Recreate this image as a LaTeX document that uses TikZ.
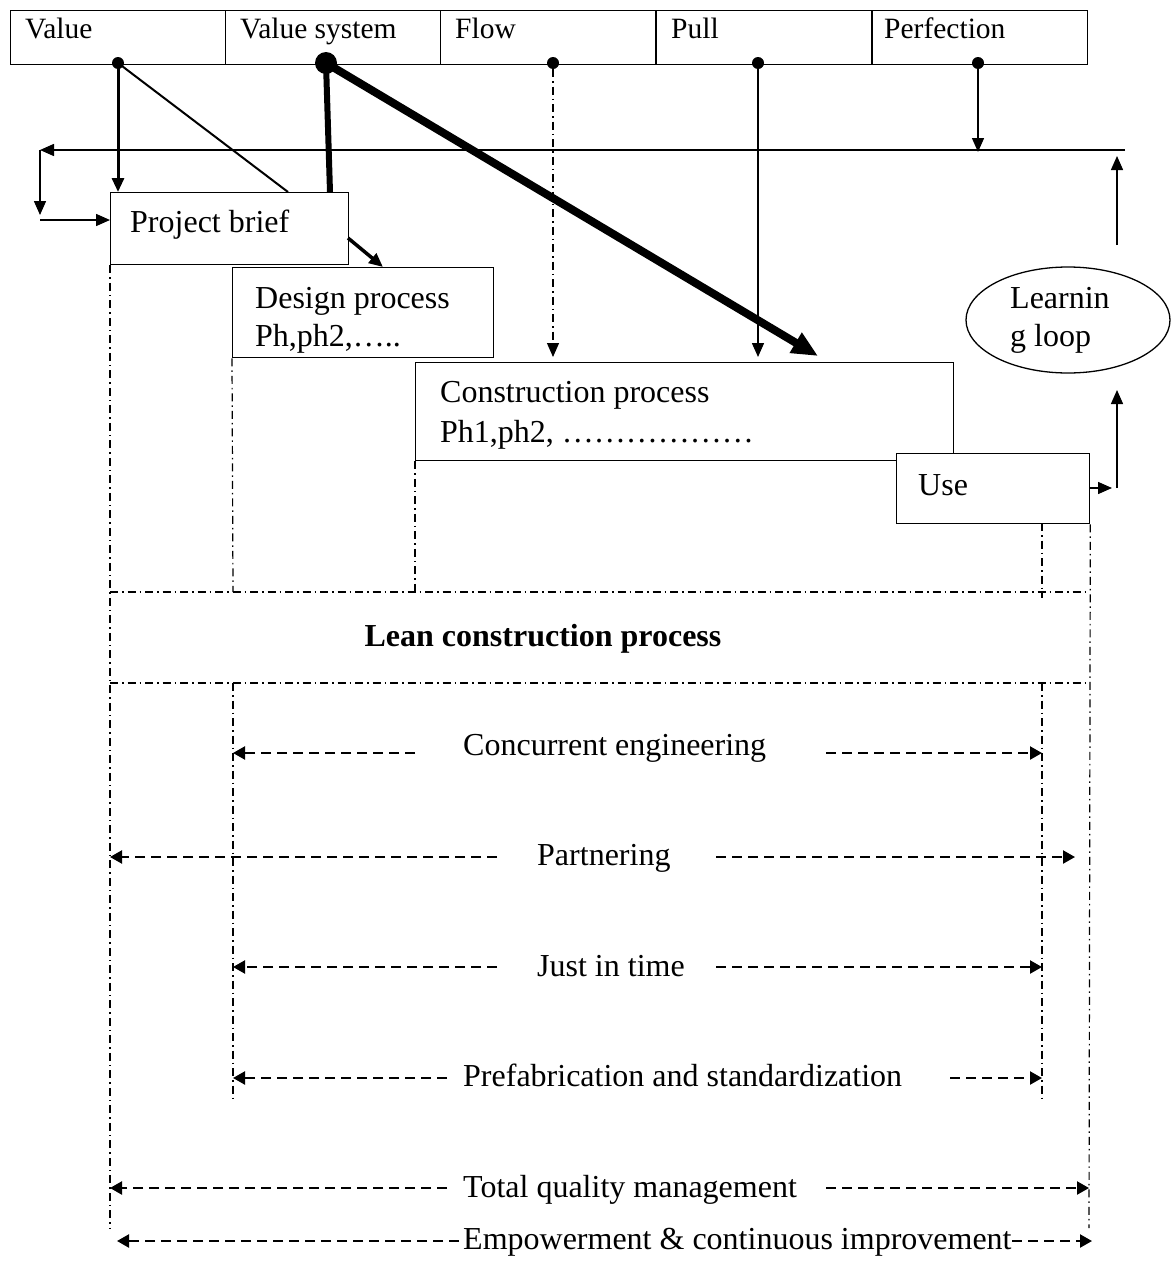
\documentclass[tikz,border=0pt]{standalone}
\usepackage{fontspec}
\setmainfont{Liberation Serif}
\usetikzlibrary{arrows.meta,shapes.geometric}
\begin{document}
\begin{tikzpicture}[x=1pt,y=-1pt,
  topbox/.style={draw, line width=1.3pt, minimum width=215pt, minimum height=54pt, anchor=north west, inner sep=0},
  procbox/.style={draw, line width=1.3pt, fill=white, anchor=north west, inner sep=0},
  tip/.style={-{Triangle[length=14pt,width=12pt]}},
  bigtip/.style={-{Triangle[length=26pt,width=22pt]}},
  dot/.style={circle, fill, inner sep=0, minimum size=12pt},
  dd/.style={line width=1.2pt, dash pattern=on 8pt off 4pt on 1.5pt off 4pt},
  da/.style={line width=2.2pt, dash pattern=on 10pt off 6pt, -{Triangle[length=12pt,width=13pt]}},
  toptxt/.style={anchor=base west, inner sep=0, font=\fontsize{29.5}{34}\selectfont},
  txt/.style={anchor=base west, inner sep=0, font=\fontsize{32}{37}\selectfont},
]
\useasboundingbox (0,0) rectangle (1170,1261);
\fill[white] (0,0) rectangle (1170,1261);

% top row
\node[topbox] (cv) at (10,10) {};
\node[topbox] (cvs) at (225,10) {};
\node[topbox] (cf) at (440,10) {};
\node[topbox] (cp) at (656,10) {};
\node[topbox] (cpf) at (872,10) {};
\node[toptxt] (tv) at (25,38) {Value};
\node[toptxt] (tvs) at (240,38) {Value system};
\node[toptxt] (tf) at (455,38) {Flow};
\node[toptxt] (tp) at (671,38) {Pull};
\node[toptxt] (tpf) at (884,38) {Perfection};

% dots
\node[dot] (dv) at (118,63) {};
\node[dot, minimum size=22pt] (dvs) at (326,63) {};
\node[dot] (df) at (553,63) {};
\node[dot] (dp) at (758,63) {};
\node[dot] (dpf) at (978,63) {};

% process boxes
\node[procbox, minimum width=238pt, minimum height=72pt] (pb) at (110,192) {};
\node[txt] (tpb) at (130,232) {Project brief};
\node[procbox, minimum width=261pt, minimum height=90pt] (dp2) at (232,267) {};
\node[txt] (tdp1) at (255,308) {Design process};
\node[txt] (tdp2) at (255,346) {Ph,ph2,\dots..};
\node[procbox, minimum width=538pt, minimum height=98pt] (cpb) at (415,362) {};
\node[txt] (tcp1) at (440,402) {Construction process};
\node[txt] (tcp2) at (440,442) {Ph1,ph2, \dots\dots\dots\dots\dots\dots};
\node[procbox, minimum width=193pt, minimum height=70pt] (use) at (896,453) {};
\node[txt] (tuse) at (918,495) {Use};
\node[draw, line width=1.3pt, ellipse, minimum width=204pt, minimum height=106pt, inner sep=0] (ll) at (1068,320) {};
\node[txt] (tll1) at (1010,308) {Learnin};
\node[txt] (tll2) at (1010,346) {g loop};

% coordinates
\coordinate (fbR) at (1125,150);
\coordinate (fbL) at (40,150);
\coordinate (fbD) at (40,215);
\coordinate (fbS) at (40,220);
\coordinate (vdiag) at (288,192);
\coordinate (vsv) at (330,192);
\coordinate (vsd) at (818,356);
\coordinate (pbo) at (348,238);
\coordinate (dpi) at (383,267);
\coordinate (fe) at (553,357);
\coordinate (pe) at (758,357);
\coordinate (pfe) at (978,152);
\coordinate (uo) at (1112,488);
\coordinate (us) at (1117,488);
\coordinate (ue) at (1117,390);
\coordinate (ls) at (1117,245);
\coordinate (le) at (1117,156);

% top connectors
\draw[line width=1.5pt, tip] (fbR) -- (fbL);
\draw[line width=1.5pt, tip] (fbL) -- (fbD);
\draw[line width=1.5pt, tip] (fbS) -- (pb.west |- fbS);
\draw[line width=3pt, tip] (dv.center) -- (dv.center |- pb.north);
\draw[line width=2pt] (dv.center) -- (vdiag);
\draw[line width=6pt] (dvs.center) -- (vsv);
\draw[line width=8pt, bigtip] (dvs.center) -- (vsd);
\draw[line width=3.5pt, tip] (pbo) -- (dpi);
\draw[dd, tip] (df.south) -- (fe);
\draw[line width=1.5pt, tip] (dp.center) -- (pe);
\draw[line width=1.5pt, tip] (dpf.center) -- (pfe);
\draw[line width=1.5pt, tip] (use.east |- uo) -- (uo);
\draw[line width=1.5pt, tip] (us) -- (ue);
\draw[line width=1.5pt, tip] (ls) -- (le);

% dash-dot frame
\coordinate (h1L) at (110,592);
\coordinate (h1R) at (1089,592);
\coordinate (h2L) at (110,683);
\coordinate (h2R) at (1089,683);
\draw[dd] (pb.south west) -- (110,1228);
\draw[dd] (dp2.south west) -- (233,592);
\draw[dd] (233,683) -- (233,1100);
\draw[dd] (cpb.south west) -- (415,592);
\draw[dd] (1042,523) -- (1042,598);
\draw[dd] (1042,683) -- (1042,1100);
\draw[dd] (use.south east) -- (1089,1228);
\draw[dd] (h1L) -- (h1R);
\draw[dd] (h2L) -- (h2R);
\node[anchor=base, inner sep=0, font=\fontsize{32}{37}\selectfont\bfseries] (lean) at (543,646) {Lean construction process};

% bottom rows
\node[txt] (ce) at (463,755) {Concurrent engineering};
\draw[da] (415,753) -- (233,753);
\draw[da] (826,753) -- (1042,753);
\node[txt] (pa) at (537,865) {Partnering};
\draw[da] (497,857) -- (110,857);
\draw[da] (716,857) -- (1075,857);
\node[txt] (jit) at (537,976) {Just in time};
\draw[da] (497,967) -- (233,967);
\draw[da] (716,967) -- (1042,967);
\node[txt] (pfs) at (463,1086) {Prefabrication and standardization};
\draw[da] (447,1078) -- (233,1078);
\draw[da] (950,1078) -- (1042,1078);
\node[txt] (tqm) at (463,1197) {Total quality management};
\draw[da] (447,1188) -- (110,1188);
\draw[da] (826,1188) -- (1089,1188);
\node[txt] (emp) at (463,1249) {Empowerment \& continuous improvement};
\draw[da] (459,1241) -- (117,1241);
\draw[da] (1012,1241) -- (1092,1241);
\end{tikzpicture}
\end{document}
